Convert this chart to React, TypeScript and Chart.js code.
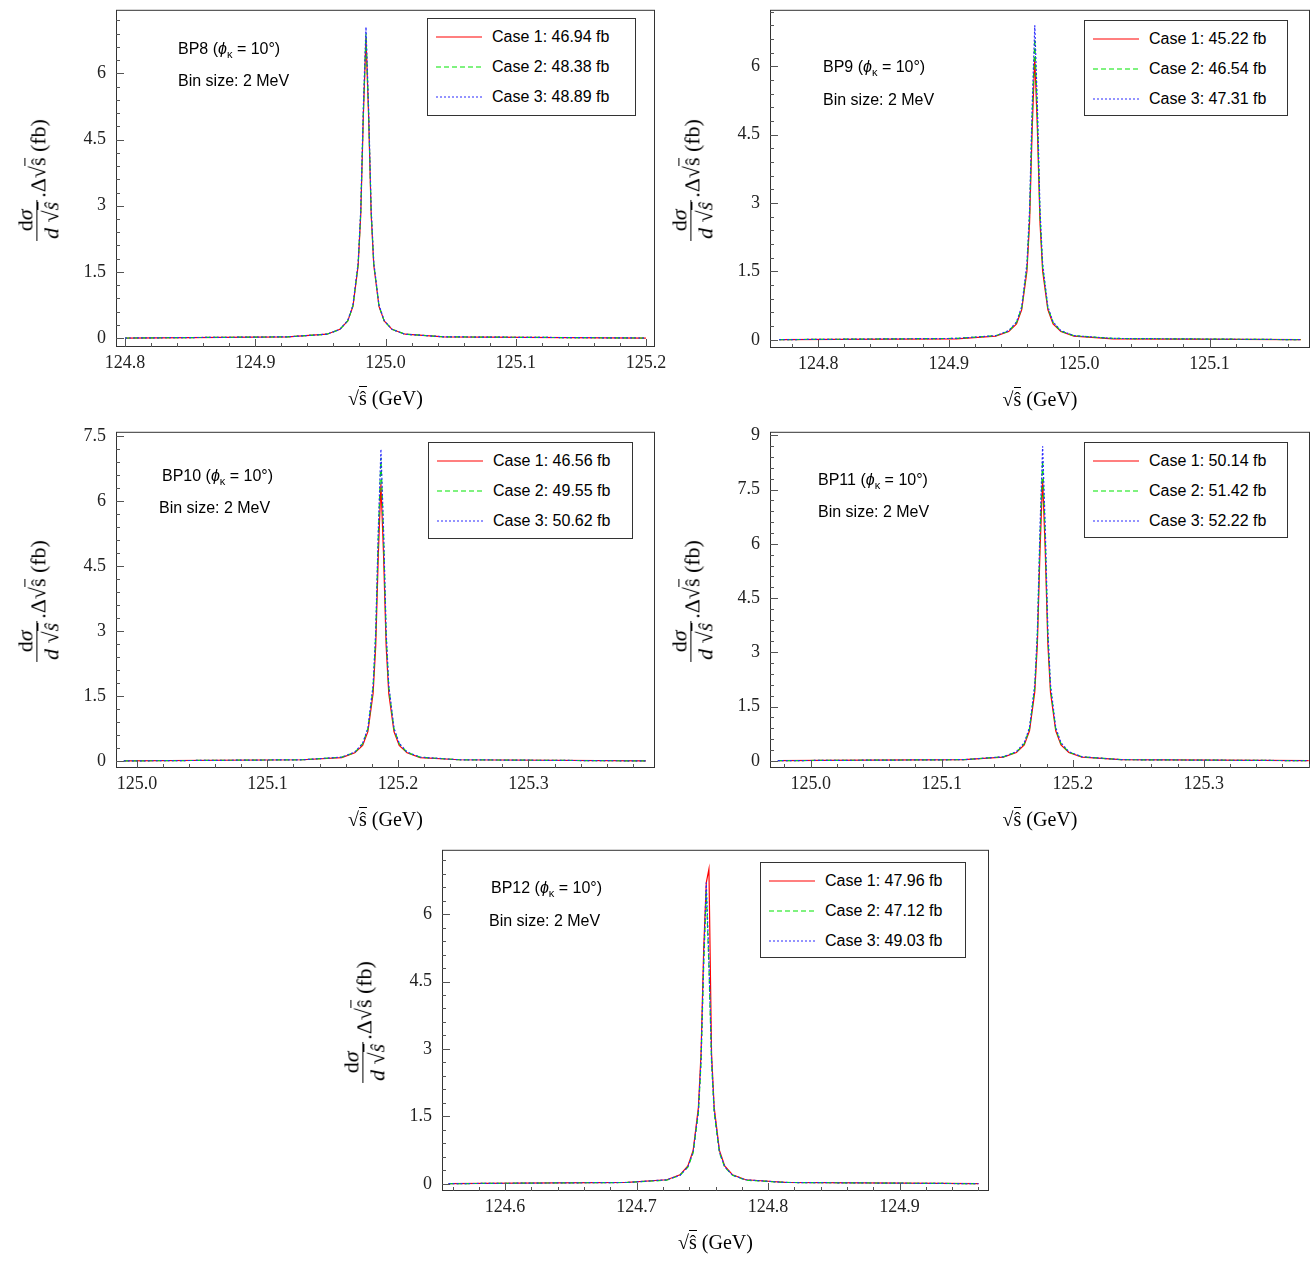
import React, { useEffect, useRef } from 'react';
import Chart from 'chart.js/auto';

const OFF = [-0.06, -0.03, -0.02, -0.014, -0.01, -0.006, -0.004, -0.002, 0, 0.002, 0.004, 0.006, 0.01, 0.014, 0.02, 0.03, 0.06];

const bp8c1 = [0.03, 0.09, 0.2, 0.39, 0.72, 1.65, 2.8, 5.05, 6.8, 5.05, 2.8, 1.65, 0.72, 0.39, 0.2, 0.09, 0.03];
const bp8c2 = [0.03, 0.09, 0.2, 0.39, 0.73, 1.68, 2.86, 5.13, 6.9, 5.13, 2.86, 1.68, 0.73, 0.39, 0.2, 0.09, 0.03];
const bp8c3 = [0.03, 0.09, 0.2, 0.4, 0.75, 1.71, 2.92, 5.24, 7.05, 5.24, 2.92, 1.71, 0.75, 0.4, 0.2, 0.09, 0.03];
const bp9c1 = [0.02, 0.08, 0.18, 0.35, 0.66, 1.51, 2.57, 4.61, 6.2, 4.61, 2.57, 1.51, 0.66, 0.35, 0.18, 0.08, 0.02];
const bp9c2 = [0.03, 0.09, 0.19, 0.38, 0.7, 1.6, 2.73, 4.9, 6.6, 4.9, 2.73, 1.6, 0.7, 0.38, 0.19, 0.09, 0.03];
const bp9c3 = [0.03, 0.09, 0.2, 0.39, 0.73, 1.68, 2.86, 5.13, 6.9, 5.13, 2.86, 1.68, 0.73, 0.39, 0.2, 0.09, 0.03];
const bp10c1 = [0.03, 0.08, 0.19, 0.36, 0.68, 1.56, 2.65, 4.76, 6.4, 4.76, 2.65, 1.56, 0.68, 0.36, 0.19, 0.08, 0.03];
const bp10c2 = [0.03, 0.09, 0.2, 0.4, 0.74, 1.7, 2.9, 5.2, 7.0, 5.2, 2.9, 1.7, 0.74, 0.4, 0.2, 0.09, 0.03];
const bp10c3 = [0.03, 0.09, 0.21, 0.41, 0.76, 1.75, 2.98, 5.35, 7.2, 5.35, 2.98, 1.75, 0.76, 0.41, 0.21, 0.09, 0.03];
const bp11c1 = [0.03, 0.1, 0.23, 0.44, 0.83, 1.9, 3.23, 5.8, 7.8, 5.8, 3.23, 1.9, 0.83, 0.44, 0.23, 0.1, 0.03];
const bp11c2 = [0.03, 0.11, 0.24, 0.47, 0.88, 2.02, 3.44, 6.17, 8.3, 6.17, 3.44, 2.02, 0.88, 0.47, 0.24, 0.11, 0.03];
const bp11c3 = [0.03, 0.11, 0.25, 0.5, 0.92, 2.11, 3.6, 6.46, 8.7, 6.46, 3.6, 2.11, 0.92, 0.5, 0.25, 0.11, 0.03];
const bp12c1 = [0.03, 0.09, 0.2, 0.4, 0.74, 1.7, 2.9, 5.2, 6.7, 7.0, 2.9, 1.7, 0.74, 0.4, 0.2, 0.09, 0.03];
const bp12c2 = [0.03, 0.08, 0.19, 0.37, 0.69, 1.58, 2.69, 4.83, 6.5, 4.83, 2.69, 1.58, 0.69, 0.37, 0.19, 0.08, 0.03];
const bp12c3 = [0.03, 0.09, 0.19, 0.38, 0.71, 1.63, 2.77, 4.98, 6.7, 4.98, 2.77, 1.63, 0.71, 0.38, 0.19, 0.09, 0.03];

const yTicks6 = [0, 1.5, 3, 4.5, 6];
const yTicks75 = [0, 1.5, 3, 4.5, 6, 7.5];
const yTicks9 = [0, 1.5, 3, 4.5, 6, 7.5, 9];

const panels = [
  { name: 'BP8', peak: 124.985, lo: 124.8, hi: 125.2, cases: [bp8c1, bp8c2, bp8c3], totals: ['46.94', '48.38', '48.89'],
    box: [116, 12, 655, 347], xr: [124.793, 125.207], yr: [-0.2, 7.44], xTicks: [124.8, 124.9, 125.0, 125.1, 125.2], yTicks: yTicks6,
    ann: [178, 50, 178, 82], leg: [427, 18, 209, 98] },
  { name: 'BP9', peak: 124.966, lo: 124.77, hi: 125.17, cases: [bp9c1, bp9c2, bp9c3], totals: ['45.22', '46.54', '47.31'],
    box: [770, 12, 1310, 348], xr: [124.763, 125.177], yr: [-0.18, 7.24], xTicks: [124.8, 124.9, 125.0, 125.1], yTicks: yTicks6,
    ann: [823, 68, 823, 101], leg: [1084, 20, 204, 96] },
  { name: 'BP10', peak: 125.187, lo: 124.99, hi: 125.39, cases: [bp10c1, bp10c2, bp10c3], totals: ['46.56', '49.55', '50.62'],
    box: [116, 434, 655, 768], xr: [124.984, 125.397], yr: [-0.16, 7.6], xTicks: [125.0, 125.1, 125.2, 125.3], yTicks: yTicks75,
    ann: [162, 477, 159, 509], leg: [428, 442, 205, 97] },
  { name: 'BP11', peak: 125.177, lo: 124.975, hi: 125.38, cases: [bp11c1, bp11c2, bp11c3], totals: ['50.14', '51.42', '52.22'],
    box: [770, 434, 1310, 768], xr: [124.969, 125.381], yr: [-0.2, 9.1], xTicks: [125.0, 125.1, 125.2, 125.3], yTicks: yTicks9,
    ann: [818, 481, 818, 513], leg: [1084, 442, 204, 96] },
  { name: 'BP12', peak: 124.753, lo: 124.557, hi: 124.96, cases: [bp12c1, bp12c2, bp12c3], totals: ['47.96', '47.12', '49.03'],
    box: [442, 852, 989, 1191], xr: [124.552, 124.968], yr: [-0.16, 7.43], xTicks: [124.6, 124.7, 124.8, 124.9], yTicks: yTicks6,
    ann: [491, 889, 489, 922], leg: [760, 862, 206, 96] },
];

const STYLES = [
  { color: 'rgb(255,0,0)', dash: [] as number[], svgDash: '' },
  { color: 'rgb(0,230,0)', dash: [5, 3], svgDash: '5 3' },
  { color: 'rgb(40,40,255)', dash: [2, 2], svgDash: '2 2' },
];

const YW = 60;
const XH = 40;
const PADT = 15;

const frame = {
  id: 'frame',
  afterDraw(chart: any) {
    const { ctx, chartArea: a, scales } = chart;
    ctx.save();
    ctx.strokeStyle = '#333';
    ctx.lineWidth = 1;
    ctx.strokeRect(a.left + 0.5, a.top + 0.5, a.right - a.left - 1, a.bottom - a.top - 1);
    ctx.strokeStyle = '#555';
    const xs = scales.x;
    const start = Math.ceil(xs.min / 0.02);
    for (let k = start; k * 0.02 <= xs.max; k++) {
      const px = Math.round(xs.getPixelForValue(k * 0.02)) + 0.5;
      const major = k % 5 === 0;
      ctx.beginPath();
      ctx.moveTo(px, a.bottom);
      ctx.lineTo(px, a.bottom - (major ? 8 : 4));
      ctx.stroke();
    }
    const ys = scales.y;
    for (let k = 0; k * 0.3 <= ys.max; k++) {
      const py = Math.round(ys.getPixelForValue(k * 0.3)) + 0.5;
      const major = k % 5 === 0;
      ctx.beginPath();
      ctx.moveTo(a.left, py);
      ctx.lineTo(a.left + (major ? 8 : 4), py);
      ctx.stroke();
    }
    ctx.restore();
  },
};

const Panel = ({ p }: { p: any }) => {
  const ref = useRef<HTMLCanvasElement>(null);
  const [l, t, r, b] = p.box;
  const w = r - l + YW + 12;
  const h = b - t + XH + PADT;
  useEffect(() => {
    if (!ref.current) return;
    const datasets = p.cases.map((vals: number[], i: number) => ({
      data: [{ x: p.lo, y: 0.003 }, ...OFF.map((o, j) => ({ x: p.peak + o, y: vals[j] })), { x: p.hi, y: 0.003 }],
      borderColor: STYLES[i].color,
      borderDash: STYLES[i].dash,
      borderWidth: 1.2,
      pointRadius: 0,
      tension: 0,
      fill: false,
      order: 3 - i,
    }));
    const ch = new Chart(ref.current, {
      type: 'line',
      data: { datasets },
      options: {
        animation: false,
        responsive: false,
        maintainAspectRatio: false,
        layout: { padding: { top: 0, right: 12, left: 0, bottom: 0 } },
        plugins: { legend: { display: false }, tooltip: { enabled: false } },
        scales: {
          x: {
            type: 'linear', min: p.xr[0], max: p.xr[1],
            grid: { display: false }, border: { display: false },
            afterFit: (s: any) => { s.height = XH; },
            afterBuildTicks: (s: any) => { s.ticks = p.xTicks.map((v: number) => ({ value: v })); },
            ticks: { color: '#222', font: { family: 'Liberation Serif', size: 18 }, padding: -3, maxRotation: 0,
              callback: (v: any) => Number(v).toFixed(1) },
          },
          y: {
            min: p.yr[0], max: p.yr[1],
            grid: { display: false }, border: { display: false },
            afterFit: (s: any) => { s.width = YW; },
            afterBuildTicks: (s: any) => { s.ticks = p.yTicks.map((v: number) => ({ value: v })); },
            ticks: { color: '#222', font: { family: 'Liberation Serif', size: 18 }, padding: 2,
              callback: (v: any) => String(v) },
          },
        },
      },
      plugins: [frame],
    });
    return () => ch.destroy();
  }, []);
  const sans = 'Liberation Sans, Arial, sans-serif';
  const [lx, ly, lw, lh] = p.leg;
  const cy = (t + b) / 2;
  return (
    <>
      <canvas ref={ref} width={w} height={h} style={{ position: 'absolute', left: l - YW, top: t - PADT, width: w, height: h }} />
      <div style={{ position: 'absolute', left: p.ann[0], top: p.ann[1] - 10, font: `16px ${sans}`, whiteSpace: 'nowrap' }}>
        {p.name} (<i>ϕ</i><sub style={{ fontSize: 11 }}>κ</sub> = 10°)
      </div>
      <div style={{ position: 'absolute', left: p.ann[2], top: p.ann[3] - 10, font: `16px ${sans}`, whiteSpace: 'nowrap' }}>
        Bin size: 2 MeV
      </div>
      <div style={{ position: 'absolute', left: lx, top: ly, width: lw, height: lh, border: '1px solid #333', boxSizing: 'border-box', background: '#fff' }}>
        {p.totals.map((tt: string, i: number) => (
          <div key={i} style={{ position: 'absolute', left: 8, top: 6 + i * 30, height: 24, display: 'flex', alignItems: 'center', font: `16px ${sans}`, whiteSpace: 'nowrap' }}>
            <svg width={46} height={4} style={{ marginRight: 10 }}>
              <line x1={0} y1={2} x2={46} y2={2} stroke={STYLES[i].color} strokeWidth={1.2} strokeDasharray={STYLES[i].svgDash} />
            </svg>
            Case {i + 1}: {tt} fb
          </div>
        ))}
      </div>
      <div style={{ position: 'absolute', left: l - 120, top: cy, width: 0, height: 0 }}>
        <div style={{ position: 'absolute', left: 42, top: 0, transform: 'translate(-50%,-50%) rotate(-90deg)', whiteSpace: 'nowrap', font: '22px Liberation Serif', display: 'flex', alignItems: 'center' }}>
          <span style={{ display: 'inline-flex', flexDirection: 'column', alignItems: 'center', lineHeight: 1.05 }}>
            <span>d<i>σ</i></span>
            <span style={{ borderTop: '1.5px solid #000', padding: '2px 2px 0' }}><i>d</i> √<span style={{ borderTop: '1px solid #000' }}><i>ŝ</i></span></span>
          </span>
          <span style={{ marginLeft: 2 }}>.Δ√<span style={{ borderTop: '1px solid #000' }}>ŝ</span> (fb)</span>
        </div>
      </div>
      <div style={{ position: 'absolute', left: (l + r) / 2 - 70, top: b + 40, width: 140, textAlign: 'center', font: '20px Liberation Serif', whiteSpace: 'nowrap' }}>
        √<span style={{ borderTop: '1px solid #000' }}>ŝ</span> (GeV)
      </div>
    </>
  );
};

export default function App() {
  return (
    <div style={{ position: 'absolute', left: 0, top: 0, width: 1312, height: 1262, background: '#fff' }}>
      {panels.map((p) => <Panel key={p.name} p={p} />)}
    </div>
  );
}
